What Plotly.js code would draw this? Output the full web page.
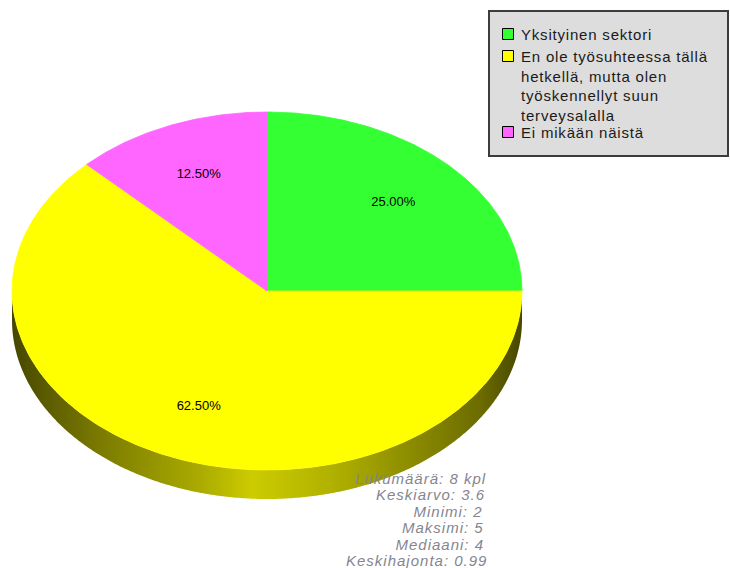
<!DOCTYPE html>
<html><head><meta charset="utf-8">
<script src="https://cdn.plot.ly/plotly-3.0.1.min.js"></script>
<style>
html,body{margin:0;padding:0;background:#fff}
#chart text.annotation-text{letter-spacing:0.8px}
#chart g.annotation[data-index="3"] text.annotation-text,
#chart g.annotation[data-index="4"] text.annotation-text,
#chart g.annotation[data-index="5"] text.annotation-text,
#chart g.annotation[data-index="6"] text.annotation-text,
#chart g.annotation[data-index="7"] text.annotation-text,
#chart g.annotation[data-index="8"] text.annotation-text{letter-spacing:1px}
#chart text.textpoint{letter-spacing:0.3px}
</style>
</head><body><div id="chart" style="width:730px;height:568px"></div>
<script>
// ---- data ----
const categories = ["Yksityinen sektori", "En ole työsuhteessa tällä<br>hetkellä, mutta olen<br>työskennellyt suun<br>terveysalalla", "Ei mikään näistä"];
const counts = [2, 5, 1];
const colors = ["#33ff33", "#ffff00", "#ff66ff"];
const statsLines = ["Lukumäärä: 8 kpl", "Keskiarvo: 3.6", "Minimi: 2", "Maksimi: 5", "Mediaani: 4", "Keskihajonta: 0.99"];

// ---- geometry (pixel units: axes map 1 unit = 1 px) ----
const W = 730, H = 568;
const cx = 267, cy = 291, rx = 255, ry = 179, depth = 29, startAngle = 90, labelR = 0.7;
const total = counts.reduce((a, b) => a + b, 0);
const FONT = "Liberation Sans, Arial, sans-serif";

function pt(theta, dy) {
  const r = theta * Math.PI / 180;
  return [cx + rx * Math.cos(r), cy - ry * Math.sin(r) + (dy || 0)];
}
function arc(a0, a1, dy) {
  const n = Math.max(2, Math.ceil(Math.abs(a0 - a1) / 0.5));
  const xs = [], ys = [];
  for (let i = 0; i <= n; i++) {
    const p = pt(a0 + (a1 - a0) * i / n, dy);
    xs.push(p[0]); ys.push(p[1]);
  }
  return [xs, ys];
}
function shade(hex, f) {
  const r = parseInt(hex.slice(1, 3), 16), g = parseInt(hex.slice(3, 5), 16), b = parseInt(hex.slice(5, 7), 16);
  return `rgb(${Math.round(r * f)},${Math.round(g * f)},${Math.round(b * f)})`;
}
const shadeStops = [[0, 0.28], [0.17, 0.48], [0.37, 0.67], [0.47, 0.8], [0.63, 0.69], [0.79, 0.54], [0.92, 0.42], [1, 0.28]];

const sideTraces = [], topTraces = [];
const lx = [], ly = [], lt = [];
let a = startAngle;
counts.forEach((v, i) => {
  const sweep = v / total * 360;
  const a0 = a, a1 = a - sweep;
  // top face
  const [ax, ay] = arc(a0, a1, 0);
  topTraces.push({
    type: "scatter", mode: "lines", fill: "toself", fillcolor: colors[i],
    x: [cx, ...ax, cx], y: [cy, ...ay, cy],
    line: { color: colors[i], width: 0.8 }, hoverinfo: "skip", showlegend: false
  });
  // front side wall
  const hi = Math.min(a0, 0), lo = Math.max(a1, -180);
  if (hi > lo) {
    const [tx, ty] = arc(hi, lo, 0);
    const [bx, by] = arc(lo, hi, depth);
    sideTraces.push({
      type: "scatter", mode: "none", fill: "toself",
      x: [...tx, ...bx], y: [...ty, ...by],
      fillgradient: {
        type: "horizontal", start: cx - rx, stop: cx + rx,
        colorscale: shadeStops.map(s => [s[0], shade(colors[i], s[1])])
      },
      hoverinfo: "skip", showlegend: false
    });
  }
  // label
  const mid = (a0 + a1) / 2 * Math.PI / 180;
  lx.push(cx + labelR * rx * Math.cos(mid));
  ly.push(cy - labelR * ry * Math.sin(mid));
  lt.push((v / total * 100).toFixed(2) + "%");
  a = a1;
});

const labelTrace = {
  type: "scatter", mode: "text", x: lx, y: ly, text: lt,
  textposition: "middle center", textfont: { family: FONT, size: 13, color: "#000" },
  hoverinfo: "skip", showlegend: false
};

// ---- legend (box, swatches, text) ----
const legendTops = [24, 46, 122];
const shapes = [{
  type: "rect", xref: "x", yref: "y", x0: 489, y0: 11, x1: 728, y1: 156,
  fillcolor: "#dddddd", line: { color: "#3c3c3c", width: 2 }, layer: "below"
}];
const annotations = [];
categories.forEach((c, i) => {
  const top = legendTops[i];
  shapes.push({
    type: "rect", xref: "x", yref: "y", x0: 502.5, x1: 513.5, y0: top + 4.5, y1: top + 15.5,
    fillcolor: colors[i], line: { color: "#000", width: 1 }
  });
  annotations.push({
    xref: "x", yref: "y", x: 519, y: top, xanchor: "left", yanchor: "top", align: "left",
    text: c, showarrow: false, font: { family: FONT, size: 15, color: "#1a1a1a" }
  });
});
statsLines.forEach((s, i) => {
  annotations.push({
    xref: "x", yref: "y", x: 481, y: 478.5 + i * 16.4, xanchor: "right", yanchor: "middle",
    text: s, showarrow: false, font: { family: FONT, size: 15, color: "#85858f", style: "italic" }
  });
});

const layout = {
  width: W, height: H, autosize: false,
  margin: { l: 0, r: 0, t: 0, b: 0, pad: 0 },
  paper_bgcolor: "#ffffff", plot_bgcolor: "#ffffff", showlegend: false,
  xaxis: { range: [0, W], visible: false, fixedrange: true },
  yaxis: { range: [H, 0], visible: false, fixedrange: true },
  shapes: shapes, annotations: annotations
};

Plotly.newPlot("chart", [...sideTraces, ...topTraces, labelTrace], layout, { displayModeBar: false, staticPlot: true });
</script></body></html>
